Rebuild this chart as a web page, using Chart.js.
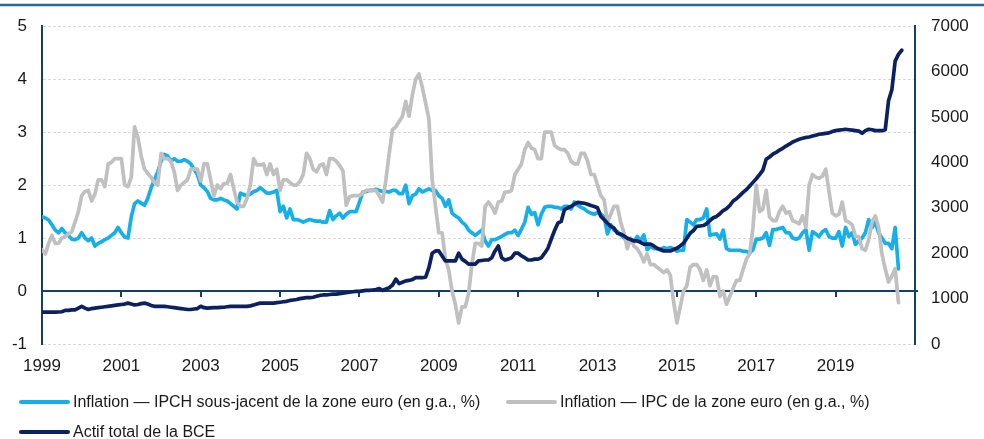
<!DOCTYPE html>
<html>
<head>
<meta charset="utf-8">
<script src="https://cdn.jsdelivr.net/npm/chart.js@4.4.1/dist/chart.umd.min.js"></script>
<style>
  html, body { margin: 0; padding: 0; background: #fff; }
  #wrap { position: relative; width: 984px; height: 439px; overflow: hidden; }
  .item {
    position: absolute; display: flex; align-items: center; white-space: nowrap;
    font-family: "Liberation Sans", Arial, sans-serif; font-size: 16px; color: #1a1a1a;
    line-height: 18px;
  }
  .swatch { width: 51px; height: 4px; border-radius: 2px; margin-right: 3px; flex: none; }
</style>
</head>
<body>
<div id="wrap">
  <canvas id="chart" width="984" height="439"></canvas>
</div>
<script>
// monthly series, Jan 1999 onwards
const startYear = 1999;

const coreInflation = [
  1.40, 1.38, 1.34, 1.25, 1.15, 1.10, 1.18, 1.10, 1.05, 0.98, 0.97, 1.00, // 1999
  1.10, 1.00, 0.95, 1.00, 0.85, 0.90, 0.93, 0.97, 1.00, 1.05, 1.10, 1.20, // 2000
  1.10, 1.02, 1.00, 1.40, 1.65, 1.70, 1.66, 1.62, 1.75, 1.95, 2.10, 2.25, // 2001
  2.45, 2.58, 2.55, 2.45, 2.50, 2.45, 2.45, 2.48, 2.45, 2.40, 2.30, 2.20, // 2002
  2.00, 1.95, 1.88, 1.75, 1.72, 1.72, 1.75, 1.72, 1.70, 1.65, 1.60, 1.55, // 2003
  1.85, 1.82, 1.80, 1.83, 1.88, 1.90, 1.95, 1.90, 1.85, 1.85, 1.87, 1.90, // 2004
  1.50, 1.60, 1.38, 1.55, 1.35, 1.35, 1.33, 1.30, 1.33, 1.35, 1.33, 1.32, // 2005
  1.32, 1.30, 1.30, 1.52, 1.35, 1.42, 1.47, 1.38, 1.45, 1.50, 1.50, 1.50, // 2006
  1.68, 1.87, 1.88, 1.90, 1.90, 1.92, 1.90, 1.88, 1.88, 1.87, 1.90, 1.90, // 2007
  1.84, 1.84, 2.00, 1.65, 1.80, 1.83, 1.93, 1.87, 1.90, 1.93, 1.90, 1.90, // 2008
  1.80, 1.75, 1.60, 1.72, 1.47, 1.42, 1.38, 1.30, 1.25, 1.15, 1.10, 1.05, // 2009
  1.10, 1.15, 0.95, 0.85, 0.97, 0.97, 1.00, 1.03, 1.07, 1.10, 1.10, 1.15, // 2010
  1.05, 1.17, 1.30, 1.58, 1.45, 1.48, 1.25, 1.45, 1.58, 1.60, 1.60, 1.58, // 2011
  1.58, 1.55, 1.60, 1.60, 1.55, 1.68, 1.62, 1.58, 1.55, 1.50, 1.47, 1.45, // 2012
  1.48, 1.45, 1.40, 1.08, 1.25, 1.15, 1.12, 1.06, 1.00, 0.95, 0.97, 0.93, // 2013
  1.03, 0.95, 1.06, 0.78, 0.85, 0.80, 0.80, 0.78, 0.82, 0.80, 0.82, 0.80, // 2014
  0.75, 0.77, 0.77, 1.35, 1.30, 1.25, 1.35, 1.35, 1.38, 1.55, 1.05, 1.07, // 2015
  1.08, 0.98, 1.15, 0.80, 0.77, 0.77, 0.77, 0.77, 0.75, 0.75, 0.72, 0.78, // 2016
  0.98, 0.98, 1.00, 1.10, 0.86, 1.16, 1.16, 1.18, 1.20, 1.10, 1.10, 1.00, // 2017
  0.98, 1.00, 1.10, 1.16, 0.77, 1.12, 1.08, 1.03, 1.12, 1.16, 1.03, 1.00, // 2018
  1.00, 1.12, 0.85, 1.20, 1.03, 1.10, 0.88, 0.95, 1.00, 1.10, 1.35, 1.20, // 2019
  1.30, 1.10, 1.00, 0.90, 0.90, 0.80, 1.20, 0.42                          // 2020
];

const headlineInflation = [
  0.78, 0.70, 0.90, 1.05, 0.90, 0.90, 1.00, 1.03, 1.08, 1.12, 1.30, 1.50, // 1999
  1.80, 1.88, 1.90, 1.70, 1.83, 2.10, 2.10, 1.97, 2.40, 2.43, 2.50, 2.50, // 2000
  2.50, 2.00, 1.97, 2.15, 3.10, 2.90, 2.55, 2.30, 2.22, 2.15, 2.05, 2.00, // 2001
  2.60, 2.50, 2.50, 2.45, 2.25, 1.90, 2.00, 2.05, 2.10, 2.30, 2.30, 2.30, // 2002
  2.08, 2.40, 2.40, 2.10, 1.80, 2.00, 1.93, 2.03, 2.03, 2.20, 1.93, 1.68, // 2003
  1.60, 1.60, 1.75, 2.00, 2.50, 2.38, 2.38, 2.40, 2.20, 2.40, 2.20, 2.30, // 2004
  1.90, 2.10, 2.10, 2.05, 2.00, 2.00, 2.07, 2.20, 2.60, 2.50, 2.30, 2.25, // 2005
  2.37, 2.40, 2.20, 2.50, 2.50, 2.45, 2.37, 2.27, 1.62, 1.78, 1.80, 1.80, // 2006
  1.80, 1.85, 1.90, 1.90, 1.90, 1.90, 1.80, 1.68, 2.10, 2.60, 3.05, 3.10, // 2007
  3.20, 3.30, 3.58, 3.30, 3.70, 4.00, 4.10, 3.85, 3.55, 3.25, 2.10, 1.60, // 2008
  1.10, 1.10, 0.60, 0.40, 0.00, -0.25, -0.60, -0.30, -0.30, -0.05, 0.50, 0.90, // 2009
  0.90, 0.85, 1.60, 1.68, 1.60, 1.47, 1.68, 1.70, 1.87, 1.87, 1.90, 2.20, // 2010
  2.30, 2.40, 2.67, 2.80, 2.70, 2.67, 2.50, 2.50, 3.00, 3.00, 3.00, 2.75, // 2011
  2.70, 2.67, 2.67, 2.60, 2.45, 2.40, 2.40, 2.60, 2.60, 2.45, 2.20, 2.20, // 2012
  2.00, 1.80, 1.72, 1.30, 1.45, 1.60, 1.60, 1.30, 1.10, 0.80, 1.00, 0.85, // 2013
  0.80, 0.70, 0.55, 0.70, 0.50, 0.50, 0.45, 0.40, 0.35, 0.40, 0.30, -0.20, // 2014
  -0.60, -0.30, 0.00, 0.10, 0.45, 0.50, 0.50, 0.40, 0.20, 0.40, 0.10, 0.27, // 2015
  0.27, -0.10, 0.00, -0.25, -0.10, 0.05, 0.20, 0.20, 0.40, 0.60, 0.70, 1.20, // 2016
  2.00, 1.50, 1.55, 1.90, 1.40, 1.33, 1.33, 1.50, 1.60, 1.47, 1.50, 1.33, // 2017
  1.30, 1.27, 1.42, 1.20, 2.00, 2.20, 2.15, 2.13, 2.17, 2.30, 1.88, 1.47, // 2018
  1.42, 1.45, 1.68, 1.33, 1.30, 1.25, 1.03, 1.03, 0.80, 0.77, 0.97, 1.30, // 2019
  1.42, 1.20, 0.70, 0.42, 0.17, 0.28, 0.42, -0.22                          // 2020
];

const ecbAssets = [
  700, 700, 700, 700, 700, 705, 710, 740, 740, 750, 750, 790,         // 1999
  830, 790, 760, 780, 790, 800, 810, 820, 830, 840, 850, 860,         // 2000
  870, 880, 900, 880, 860, 870, 890, 900, 880, 850, 830, 830,         // 2001
  830, 830, 820, 810, 800, 790, 780, 770, 760, 760, 770, 780,         // 2002
  830, 800, 790, 795, 800, 800, 805, 810, 820, 830, 830, 830,         // 2003
  830, 830, 830, 840, 860, 880, 900, 900, 900, 900, 900, 910,         // 2004
  920, 930, 940, 960, 970, 980, 1000, 1010, 1020, 1020, 1030, 1050,   // 2005
  1070, 1080, 1080, 1090, 1100, 1100, 1110, 1120, 1130, 1140, 1150, 1160, // 2006
  1160, 1170, 1180, 1180, 1190, 1200, 1220, 1180, 1210, 1240, 1300, 1430, // 2007
  1330, 1360, 1390, 1400, 1420, 1460, 1460, 1460, 1470, 1680, 2000, 2050, // 2008
  2050, 1940, 1830, 1830, 1830, 1830, 2000, 1870, 1820, 1760, 1760, 1760, // 2009
  1830, 1840, 1850, 1850, 1900, 2050, 2160, 1900, 1850, 1870, 1900, 2000, // 2010
  2000, 1940, 1900, 1850, 1850, 1870, 1870, 1900, 2000, 2110, 2310, 2500, // 2011
  2660, 2700, 2960, 3000, 3030, 3080, 3120, 3110, 3100, 3080, 3050, 3030, // 2012
  3000, 2810, 2740, 2660, 2590, 2550, 2440, 2420, 2380, 2330, 2300, 2270, // 2013
  2270, 2240, 2200, 2200, 2200, 2160, 2110, 2080, 2050, 2050, 2050, 2080, // 2014
  2110, 2160, 2220, 2330, 2440, 2500, 2590, 2600, 2610, 2650, 2720, 2780, // 2015
  2810, 2870, 2940, 2980, 3050, 3150, 3200, 3270, 3340, 3400, 3480, 3560, // 2016
  3640, 3730, 3830, 4070, 4120, 4180, 4220, 4270, 4310, 4360, 4400, 4450, // 2017
  4480, 4510, 4530, 4550, 4560, 4580, 4600, 4620, 4630, 4640, 4650, 4680, // 2018
  4700, 4710, 4720, 4730, 4720, 4710, 4700, 4690, 4640, 4700, 4730, 4720, // 2019
  4700, 4700, 4700, 4720, 5360, 5600, 6230, 6380, 6470                    // 2020
];

const yearTicks = [1999, 2001, 2003, 2005, 2007, 2009, 2011, 2013, 2015, 2017, 2019];

const labels = [
  'Inflation \u2014 IPCH sous-jacent de la zone euro (en g.a., %)',
  'Inflation \u2014 IPC de la zone euro (en g.a., %)',
  'Actif total de la BCE'
];
const colors = ['#15b0ea', '#c0c0c0', '#0b2160'];
const axisColor = '#123f6b';

// where each legend entry sits (left, top)
const legendSpots = [[19, 393], [506, 393], [19, 423]];

function toPoints(values) {
  return values.map((v, i) => ({ x: startYear + i / 12, y: v }));
}

const tickFont = { family: '"Liberation Sans", Arial, sans-serif', size: 17 };

// zero line, x tick marks and the top rule
const framePlugin = {
  id: 'frame',
  beforeDatasetsDraw(chart) {
    const { ctx, chartArea, scales } = chart;
    const y0 = scales.y.getPixelForValue(0);
    ctx.save();
    ctx.strokeStyle = axisColor;
    ctx.lineWidth = 2;
    ctx.beginPath();
    ctx.moveTo(chartArea.left, y0);
    ctx.lineTo(chartArea.right + 3, y0);
    ctx.stroke();
    yearTicks.concat([2021]).forEach(yr => {
      const x = Math.round(scales.x.getPixelForValue(yr));
      ctx.beginPath();
      ctx.moveTo(x, y0);
      ctx.lineTo(x, y0 + 6);
      ctx.stroke();
    });
    ctx.restore();
  },
  afterDraw(chart) {
    const ctx = chart.ctx;
    ctx.save();
    ctx.strokeStyle = '#2a6797';
    ctx.lineWidth = 2.5;
    ctx.beginPath();
    ctx.moveTo(0, 5);
    ctx.lineTo(chart.width, 5);
    ctx.stroke();
    ctx.restore();
  }
};

const chart = new Chart(document.getElementById('chart').getContext('2d'), {
  type: 'line',
  data: {
    datasets: [
      { label: labels[0], data: toPoints(coreInflation), borderColor: colors[0], yAxisID: 'y', order: 3 },
      { label: labels[1], data: toPoints(headlineInflation), borderColor: colors[1], yAxisID: 'y', order: 2 },
      { label: labels[2], data: toPoints(ecbAssets), borderColor: colors[2], yAxisID: 'y2', order: 1 }
    ]
  },
  options: {
    responsive: false,
    animation: false,
    devicePixelRatio: 1,
    layout: { padding: { top: 23, bottom: 55, left: 0, right: 0 } },
    elements: {
      line: { borderWidth: 3.7, tension: 0, borderJoinStyle: 'round', borderCapStyle: 'round' },
      point: { radius: 0 }
    },
    plugins: {
      legend: { display: false },
      tooltip: { enabled: false }
    },
    scales: {
      x: {
        type: 'linear',
        min: 1999,
        max: 2021,
        grid: { display: false, drawTicks: false },
        border: { display: false },
        ticks: {
          stepSize: 2,
          padding: 12,
          maxRotation: 0,
          autoSkip: false,
          color: '#1a1a1a',
          font: tickFont,
          callback: v => (yearTicks.includes(v) ? String(v) : '')
        },
        afterFit(scale) { scale.height = 40; }
      },
      y: {
        position: 'left',
        min: -1,
        max: 5,
        grid: { color: '#d9d9d9', lineWidth: 1, drawTicks: false },
        border: { display: true, color: axisColor, width: 2, dash: [3, 2] },
        ticks: { stepSize: 1, padding: 15, color: '#1a1a1a', font: tickFont, callback: v => String(v) },
        afterFit(scale) { scale.width = 42; }
      },
      y2: {
        position: 'right',
        min: 0,
        max: 7000,
        grid: { display: false, drawTicks: false },
        border: { display: true, color: axisColor, width: 2 },
        ticks: { stepSize: 1000, padding: 16, color: '#1a1a1a', font: tickFont, callback: v => String(v) },
        afterFit(scale) { scale.width = 69; }
      }
    }
  },
  plugins: [framePlugin]
});

// legend built from the datasets
const wrap = document.getElementById('wrap');
chart.data.datasets.forEach((ds, i) => {
  const item = document.createElement('div');
  item.className = 'item';
  item.style.left = legendSpots[i][0] + 'px';
  item.style.top = legendSpots[i][1] + 'px';
  const sw = document.createElement('span');
  sw.className = 'swatch';
  sw.style.background = ds.borderColor;
  const txt = document.createElement('span');
  txt.textContent = ds.label;
  item.appendChild(sw);
  item.appendChild(txt);
  wrap.appendChild(item);
});
</script>
</body>
</html>
